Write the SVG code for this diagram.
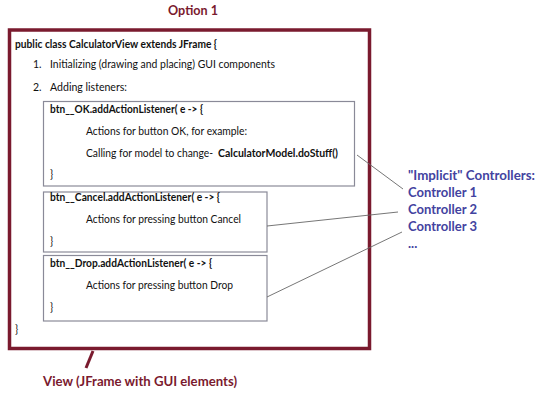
<svg xmlns="http://www.w3.org/2000/svg" width="540" height="401" viewBox="0 0 540 401">
<style>
text{font-family:Lato,"Liberation Sans",sans-serif;fill:#111;font-size:10.5px}
.b{font-weight:bold}
.red{fill:#7a1a2e;font-weight:bold;font-size:13.5px}
.blue{fill:#4343a0;font-weight:bold;font-size:13px}
.box{fill:#fff;stroke:#8a8a98;stroke-width:1.2}
.con{stroke:#666;stroke-width:0.9;fill:none}
</style>
<rect width="540" height="401" fill="#fff"/>
<text class="red" x="168" y="15" textLength="50" lengthAdjust="spacingAndGlyphs">Option 1</text>
<g id="view">
<rect x="9.5" y="30" width="360" height="318.5" fill="#fff" stroke="#7a1a2e" stroke-width="3.5"/>
<text class="b" x="15" y="48" textLength="202" lengthAdjust="spacingAndGlyphs">public class CalculatorView extends JFrame {</text>
<text x="33" y="68">1.</text>
<text x="50" y="68" textLength="225" lengthAdjust="spacingAndGlyphs">Initializing (drawing and placing) GUI components</text>
<text x="33" y="91">2.</text>
<text x="50" y="91" textLength="77" lengthAdjust="spacingAndGlyphs">Adding listeners:</text>
<text x="15" y="333">}</text>
<line x1="93" y1="351" x2="86" y2="368" stroke="#7a1a2e" stroke-width="3"/>
</g>
<g id="ok">
<rect class="box" x="43.5" y="101.5" width="311" height="84.5"/>
<text class="b" x="50" y="113" textLength="153" lengthAdjust="spacingAndGlyphs">btn__OK.addActionListener( e -&gt; {</text>
<text x="86" y="135" textLength="161" lengthAdjust="spacingAndGlyphs">Actions for button OK, for example:</text>
<text x="86" y="157" textLength="127" lengthAdjust="spacingAndGlyphs">Calling for model to change-</text>
<text class="b" x="218" y="157" textLength="120" lengthAdjust="spacingAndGlyphs">CalculatorModel.doStuff()</text>
<text x="50" y="178">}</text>
</g>
<g id="cancel">
<rect class="box" x="43.5" y="192" width="223.5" height="60"/>
<text class="b" x="50" y="201" textLength="170" lengthAdjust="spacingAndGlyphs">btn__Cancel.addActionListener( e -&gt; {</text>
<text x="86" y="223" textLength="155" lengthAdjust="spacingAndGlyphs">Actions for pressing button Cancel</text>
<text x="50" y="245">}</text>
</g>
<g id="drop">
<rect class="box" x="43.5" y="255.5" width="223.5" height="65.5"/>
<text class="b" x="50" y="267" textLength="162" lengthAdjust="spacingAndGlyphs">btn__Drop.addActionListener( e -&gt; {</text>
<text x="86" y="289" textLength="147" lengthAdjust="spacingAndGlyphs">Actions for pressing button Drop</text>
<text x="50" y="311">}</text>
</g>
<g id="connectors">
<line class="con" x1="357" y1="155" x2="403" y2="189"/>
<line class="con" x1="267" y1="226" x2="398" y2="212"/>
<line class="con" x1="267" y1="297" x2="402" y2="232"/>
</g>
<g id="controllers">
<text class="blue" x="408" y="180" textLength="127" lengthAdjust="spacingAndGlyphs">"Implicit" Controllers:</text>
<text class="blue" x="408" y="197" textLength="69" lengthAdjust="spacingAndGlyphs">Controller 1</text>
<text class="blue" x="408" y="214" textLength="69" lengthAdjust="spacingAndGlyphs">Controller 2</text>
<text class="blue" x="408" y="231" textLength="69" lengthAdjust="spacingAndGlyphs">Controller 3</text>
<text class="blue" x="408" y="248">...</text>
</g>
<text class="red" x="43" y="386" textLength="194" lengthAdjust="spacingAndGlyphs">View (JFrame with GUI elements)</text>
</svg>
